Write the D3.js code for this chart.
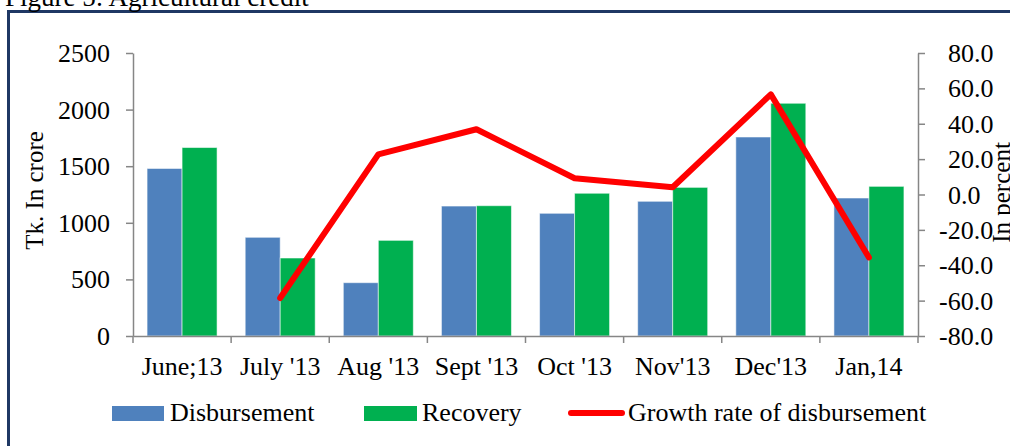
<!DOCTYPE html>
<html>
<head>
<meta charset="utf-8">
<script src="https://cdn.jsdelivr.net/npm/d3@7"></script>
<style>
  html, body { margin: 0; padding: 0; background: #fff; overflow: hidden; }
  svg { display: block; }
  text { font-family: "Liberation Serif", "Times New Roman", serif; fill: #000; }
</style>
</head>
<body>
<svg id="chart" width="1010" height="446"></svg>
<script>
const categories = ["June;13", "July '13", "Aug '13", "Sept '13", "Oct '13", "Nov'13", "Dec'13", "Jan,14"];
const disbursement = [1480, 872, 471, 1148, 1084, 1190, 1758, 1219];
const recovery = [1665, 689, 845, 1151, 1261, 1313, 2056, 1322];
const growth = [null, -58.5, 22.7, 36.9, 9.2, 4.1, 56.6, -35.6];
const leftTicks = [0, 500, 1000, 1500, 2000, 2500];
const rightTicks = [-80, -60, -40, -20, 0, 20, 40, 60, 80];
const seriesNames = ["Disbursement", "Recovery", "Growth rate of disbursement"];

const FS = 26;
const svg = d3.select("#chart");
const L = 133, R = 918, T = 53, B = 336;
const axisColor = "#868686";

// frame
svg.append("rect").attr("x", 8.5).attr("y", 11.5).attr("width", 1020).attr("height", 460)
  .attr("fill", "none").attr("stroke", "#1F3864").attr("stroke-width", 3);

// title (partially cut at top)
svg.append("text").attr("x", 5).attr("y", 6)
  .style("font-size", "27px").text("Figure 5: Agricultural credit");

const inner = 1 - 70 / 98.125;
const x = d3.scaleBand().domain(categories).range([L, R]).paddingInner(inner).paddingOuter(inner / 2);
const xs = d3.scaleBand().domain(["d", "r"]).range([0, x.bandwidth()]);
const yL = d3.scaleLinear().domain([0, 2500]).range([B, T]);
const yR = d3.scaleLinear().domain([-80, 80]).range([B, T]);

// bars
const g = svg.append("g");
categories.forEach((c, i) => {
  g.append("rect").attr("x", x(c) + xs("d")).attr("y", yL(disbursement[i]))
    .attr("width", xs.bandwidth()).attr("height", yL(0) - yL(disbursement[i]))
    .attr("fill", "#4F81BD").attr("stroke", "rgba(255,255,255,0.55)").attr("stroke-width", 1);
  g.append("rect").attr("x", x(c) + xs("r")).attr("y", yL(recovery[i]))
    .attr("width", xs.bandwidth()).attr("height", yL(0) - yL(recovery[i]))
    .attr("fill", "#00B050").attr("stroke", "rgba(255,255,255,0.55)").attr("stroke-width", 1);
});

// left axis
const ax = svg.append("g").attr("transform", `translate(${L},0)`)
  .call(d3.axisLeft(yL).tickValues(leftTicks).tickFormat(d3.format("d")).tickSize(7).tickSizeOuter(0));
ax.select(".domain").attr("stroke", axisColor).attr("stroke-width", 1.5);
ax.selectAll(".tick line").attr("stroke", axisColor).attr("stroke-width", 1.5);
ax.selectAll(".tick text").attr("x", -23).attr("dy", "0.33em")
  .style("font-size", FS + "px").attr("font-family", null);

// right axis
const pctFmt = d => d.toFixed(1);
const ar = svg.append("g").attr("transform", `translate(${R},0)`)
  .call(d3.axisRight(yR).tickValues(rightTicks).tickFormat(pctFmt).tickSize(7).tickSizeOuter(0));
ar.select(".domain").attr("stroke", axisColor).attr("stroke-width", 1.5);
ar.selectAll(".tick line").attr("stroke", axisColor).attr("stroke-width", 1.5);
ar.selectAll(".tick text").attr("x", d => d < 0 ? 21 : 30).attr("dy", "0.33em")
  .style("font-size", FS + "px").attr("font-family", null);

// bottom axis
const ab = svg.append("g").attr("transform", `translate(0,${B})`)
  .call(d3.axisBottom(x).tickSize(0).tickSizeOuter(0));
ab.select(".domain").attr("stroke", axisColor).attr("stroke-width", 1.5);
ab.selectAll(".tick text").attr("y", 39).attr("dy", 0)
  .style("font-size", FS + "px").attr("font-family", null);
const bounds = categories.map(c => x(c) - x.step() * inner / 2).concat([R]);
svg.append("g").selectAll("line").data(bounds).join("line")
  .attr("x1", d => d).attr("x2", d => d).attr("y1", B).attr("y2", B + 7)
  .attr("stroke", axisColor).attr("stroke-width", 1.5);

// line
const line = d3.line().defined(d => d.v !== null)
  .x(d => x(d.c) + x.bandwidth() / 2).y(d => yR(d.v));
svg.append("path").datum(categories.map((c, i) => ({ c, v: growth[i] })))
  .attr("d", line).attr("fill", "none").attr("stroke", "#FF0000")
  .attr("stroke-width", 6).attr("stroke-linecap", "round").attr("stroke-linejoin", "round");

// axis titles
svg.append("text").attr("transform", `translate(43,${(T + B) / 2 - 4}) rotate(-90)`)
  .attr("text-anchor", "middle").style("font-size", "25px").text("Tk. In crore");
svg.append("text").attr("transform", `translate(1010,${(T + B) / 2 - 2}) rotate(-90)`)
  .attr("text-anchor", "middle").style("font-size", "25px").text("In percent");

// legend
const lg = svg.append("g");
lg.append("rect").attr("x", 112).attr("y", 406).attr("width", 52).attr("height", 15).attr("fill", "#4F81BD");
lg.append("text").attr("x", 170).attr("y", 421).style("font-size", FS + "px").text(seriesNames[0]);
lg.append("rect").attr("x", 364).attr("y", 406).attr("width", 53).attr("height", 15).attr("fill", "#00B050");
lg.append("text").attr("x", 422).attr("y", 421).style("font-size", FS + "px").text(seriesNames[1]);
lg.append("line").attr("x1", 571).attr("x2", 622).attr("y1", 413).attr("y2", 413)
  .attr("stroke", "#FF0000").attr("stroke-width", 6).attr("stroke-linecap", "round");
lg.append("text").attr("x", 628).attr("y", 421).style("font-size", FS + "px").text(seriesNames[2]);
</script>
</body>
</html>
